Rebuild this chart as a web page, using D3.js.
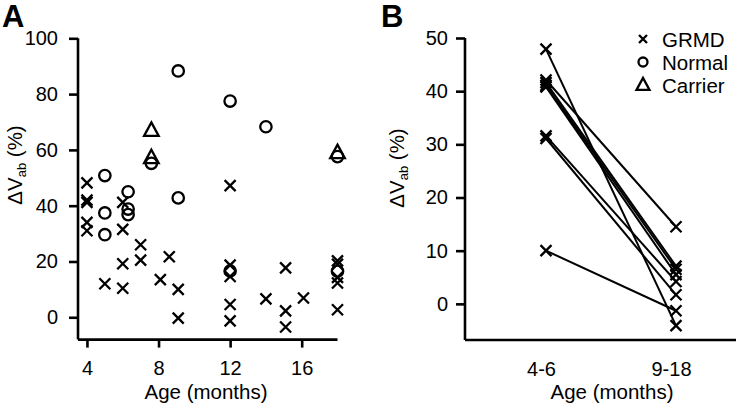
<!DOCTYPE html>
<html><head><meta charset="utf-8">
<script src="https://cdn.jsdelivr.net/npm/d3@7"></script>
<style>
body{margin:0;background:#fff}
svg{display:block;font-family:"Liberation Sans",Arial,Helvetica,sans-serif}
</style></head>
<body><svg id="c" width="736" height="406"></svg>
<script>
// Panel A data
const ageGRMD = [4,4,4,4,4, 5, 6,6,6,6, 7,7, 8.1, 8.6, 9.1,9.1, 12,12,12,12,12, 14, 15.1,15.1,15.1, 16.1, 18,18,18,18,18];
const valGRMD = [48.2,42,41.2,34,31, 12, 41.2,31.5,19.2,10.4, 26,20.5, 13.5, 21.7, 10,-0.3, 47.2,18.7,14.6,4.6,-1.3, 6.6, 17.7,2.3,-3.5, 6.9, 20.2,19,14.3,12.3,2.7];
const ageNormal = [5,5,5, 6.3,6.3,6.3, 7.6, 9.1,9.1, 12,12, 14, 18,18];
const valNormal = [50.8,37.4,29.6, 45,38.8,36.8, 55.2, 88.3,42.8, 77.5,16.6, 68.3, 57.6,16.5];
const ageCarrier = [7.6,7.6,18];
const valCarrier = [67,57.2,59];
const ticksA_x = [4,8,12,16];
const ticksA_y = [0,20,40,60,80,100];
// Panel B data (paired GRMD)
const groupsB = ["4-6","9-18"];
const earlyB = [47.9, 42.1, 41.6, 41.1, 40.8, 31.6, 31.1, 10];
const lateB  = [-4.1, 14.5, 7.1, 6.5, 5.5, 4.2, 1.7, -1.3];
const ticksB_y = [0,10,20,30,40,50];
const legendLabels = ["GRMD","Normal","Carrier"];

const svg = d3.select("#c");
const FS = 20.5;
const TFS = 20;
const SW = 2.3;

function cross(g, x, y, s){
  g.append("path").attr("d",`M${x-s},${y-s}L${x+s},${y+s}M${x-s},${y+s}L${x+s},${y-s}`)
   .attr("stroke","#000").attr("stroke-width",SW).attr("fill","none");
}
function circ(g, x, y, r){
  g.append("circle").attr("cx",x).attr("cy",y).attr("r",r)
   .attr("stroke","#000").attr("stroke-width",SW).attr("fill","none");
}
function tri(g, x, y, s){
  g.append("path").attr("d",`M${x},${y-s*1.1}L${x+s},${y+s*0.75}L${x-s},${y+s*0.75}Z`)
   .attr("stroke","#000").attr("stroke-width",SW).attr("fill","none").attr("stroke-linejoin","miter");
}

// ---------- Panel A ----------
const xA = d3.scaleLinear().domain([3.5,18]).range([78,337.5]);
const yA = d3.scaleLinear().domain([-8,100]).range([339.6,38.3]);
const gA = svg.append("g");

const axYA = d3.axisLeft(yA).tickValues(ticksA_y).tickSize(9).tickPadding(11).tickSizeOuter(0);
const gyA = gA.append("g").attr("transform","translate(78,0)").call(axYA);
gyA.select(".domain").attr("d",`M0,${yA(100)}V${yA(-8)}`);
const axXA = d3.axisBottom(xA).tickValues(ticksA_x).tickSize(8).tickPadding(13).tickSizeOuter(0);
const gxA = gA.append("g").attr("transform",`translate(0,${yA(-8)})`).call(axXA);
gxA.select(".domain").attr("d",`M${xA(3.5)},0H${xA(18)}`);

[gyA,gxA].forEach(g=>{
  g.selectAll(".domain,line").attr("stroke","#000").attr("stroke-width",2.6);
  g.selectAll("text").attr("font-size",TFS).attr("fill","#000").attr("font-family",null);
});

ageGRMD.forEach((a,i)=>cross(gA, xA(a), yA(valGRMD[i]), 5.5));
ageNormal.forEach((a,i)=>circ(gA, xA(a), yA(valNormal[i]), 5.7));
ageCarrier.forEach((a,i)=>tri(gA, xA(a), yA(valCarrier[i]), 7.3));

gA.append("text").attr("x",206).attr("y",399).attr("text-anchor","middle").attr("font-size",FS).text("Age (months)");
const labA = gA.append("text").attr("transform","translate(22,165) rotate(-90)").attr("text-anchor","middle").attr("font-size",FS);
labA.append("tspan").text("ΔV");
labA.append("tspan").attr("font-size",13).attr("dy",4).text("ab");
labA.append("tspan").attr("dy",-4).text(" (%)");
svg.append("text").attr("x",2).attr("y",27).attr("font-size",31).attr("font-weight","bold").text("A");

// ---------- Panel B ----------
const xB = d3.scalePoint().domain(groupsB).range([546,676]);
const yB = d3.scaleLinear().domain([-6.8,50]).range([340,38]);
const gB = svg.append("g");

const axYB = d3.axisLeft(yB).tickValues(ticksB_y).tickSize(9).tickPadding(8).tickSizeOuter(0);
const gyB = gB.append("g").attr("transform","translate(465,0)").call(axYB);
gyB.select(".domain").attr("d",`M0,${yB(50)}V${yB(-6.8)}`);
const axXB = d3.axisBottom(xB).tickSize(0).tickPadding(22).tickSizeOuter(0);
const gxB = gB.append("g").attr("transform",`translate(0,${yB(-6.8)})`).call(axXB);
gxB.select(".domain").attr("d",`M465,0H736`);
gxB.selectAll("text").attr("dx",-5);

[gyB,gxB].forEach(g=>{
  g.selectAll(".domain,line").attr("stroke","#000").attr("stroke-width",2.6);
  g.selectAll("text").attr("font-size",TFS).attr("fill","#000").attr("font-family",null);
});

earlyB.forEach((e,i)=>{
  gB.append("line").attr("x1",xB(groupsB[0])).attr("y1",yB(e))
    .attr("x2",xB(groupsB[1])).attr("y2",yB(lateB[i]))
    .attr("stroke","#000").attr("stroke-width",2);
});
earlyB.forEach(e=>cross(gB, xB(groupsB[0]), yB(e), 5.5));
lateB.forEach(v=>cross(gB, xB(groupsB[1]), yB(v), 5.5));

gB.append("text").attr("x",612).attr("y",399).attr("text-anchor","middle").attr("font-size",FS).text("Age (months)");
const labB = gB.append("text").attr("transform","translate(404,168) rotate(-90)").attr("text-anchor","middle").attr("font-size",FS);
labB.append("tspan").text("ΔV");
labB.append("tspan").attr("font-size",13).attr("dy",4).text("ab");
labB.append("tspan").attr("dy",-4).text(" (%)");
svg.append("text").attr("x",381).attr("y",27).attr("font-size",31).attr("font-weight","bold").text("B");

// Legend
const legY = [39,62,85];
cross(gB, 643, legY[0], 4);
circ(gB, 643, legY[1], 4.5);
tri(gB, 643, legY[2], 6.5);
legendLabels.forEach((t,i)=>{
  gB.append("text").attr("x",662).attr("y",legY[i]+7.5).attr("font-size",FS).text(t);
});
</script></body></html>
